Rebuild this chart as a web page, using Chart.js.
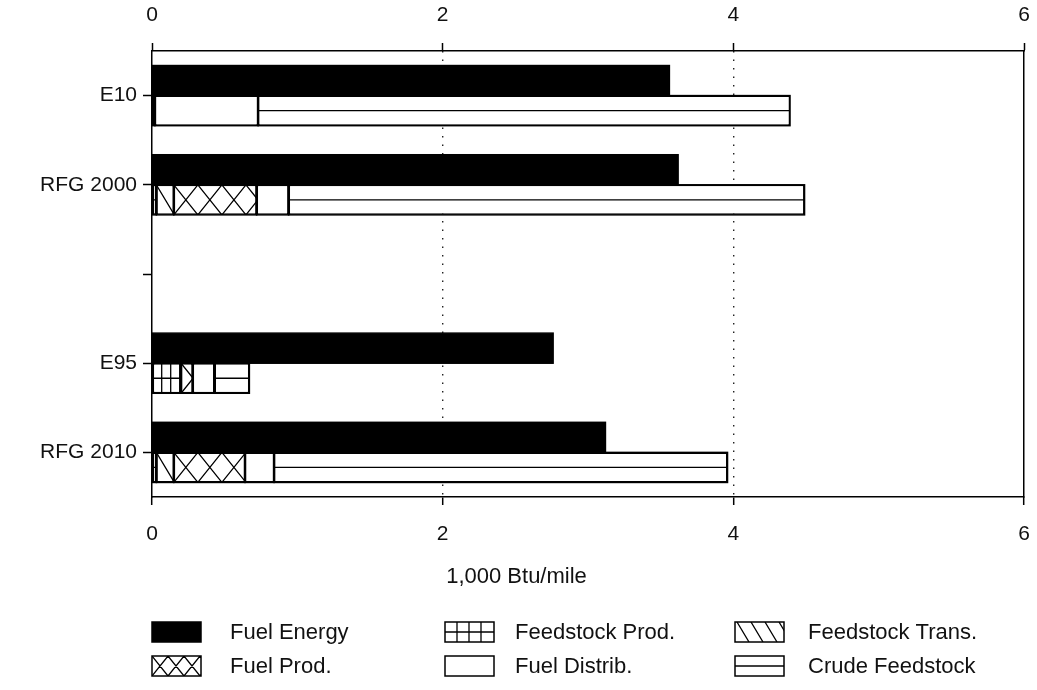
<!DOCTYPE html>
<html>
<head>
<meta charset="utf-8">
<script src="https://cdn.jsdelivr.net/npm/chart.js@4.4.1/dist/chart.umd.min.js"></script>
<style>
  html, body { margin: 0; padding: 0; background: #fff; }
  #c { display: block; }
</style>
</head>
<body>
<canvas id="c" width="1037" height="690"></canvas>
<script>
// Energy use by pathway, 1,000 Btu/mile
const categories = ['E10', 'RFG 2000', '', 'E95', 'RFG 2010'];
const valueTicks = [0, 2, 4, 6];
const fuelEnergy     = [3.56, 3.62, null, 2.76, 3.12];
const feedstockProd  = [0.02, 0.03, null, 0.20, 0.03];
const feedstockTrans = [null, 0.12, null, null, 0.12];
const fuelProd       = [null, 0.57, null, 0.08, 0.49];
const fuelDistrib    = [0.71, 0.22, null, 0.15, 0.20];
const crudeFeedstock = [3.66, 3.55, null, 0.24, 3.12];
const seriesNames = ['Fuel Energy', 'Feedstock Prod.', 'Feedstock Trans.',
                     'Fuel Prod.', 'Fuel Distrib.', 'Crude Feedstock'];
const axisTitle = '1,000 Btu/mile';

const FONT = '"Liberation Sans", Arial, Helvetica, sans-serif';
const INK = '#111';

// Line fill styles used inside bars and legend boxes
function hatchLines(ctx, kind, l, t, w, h, legend) {
  if (kind === 'solid' || kind === 'none') return;
  ctx.save();
  ctx.beginPath();
  ctx.rect(l, t, w, h);
  ctx.clip();
  ctx.strokeStyle = '#000';
  ctx.lineWidth = 1.3;
  ctx.beginPath();
  const mid = t + h / 2;
  if (kind === 'grid') {
    const step = legend ? 12 : 9;
    for (let x = l + step; x < l + w - 1; x += step) {
      ctx.moveTo(x, t); ctx.lineTo(x, t + h);
    }
    ctx.moveTo(l, mid); ctx.lineTo(l + w, mid);
  } else if (kind === 'hline') {
    ctx.moveTo(l, mid); ctx.lineTo(l + w, mid);
  } else if (kind === 'diag') {
    const dx = h * 0.6, step = legend ? 14 : 18;
    for (let x = l - dx; x < l + w + dx; x += step) {
      ctx.moveTo(x, t); ctx.lineTo(x + dx, t + h);
    }
  } else if (kind === 'cross') {
    const p = h * 0.8;
    for (let x = l - p; x < l + w + p; x += p) {
      ctx.moveTo(x, t); ctx.lineTo(x + p, t + h);
      ctx.moveTo(x + p, t); ctx.lineTo(x, t + h);
    }
  }
  ctx.stroke();
  ctx.restore();
}

const hatchPlugin = {
  id: 'hatch',
  beforeDraw(chart) {
    const ctx = chart.ctx;
    ctx.save();
    ctx.fillStyle = '#fff';
    ctx.fillRect(0, 0, chart.width, chart.height);
    ctx.restore();
  },
  afterDatasetsDraw(chart) {
    const ctx = chart.ctx;
    chart.data.datasets.forEach((ds, i) => {
      const meta = chart.getDatasetMeta(i);
      meta.data.forEach((el, j) => {
        if (ds.data[j] == null) return;
        const p = el.getProps(['x', 'y', 'base', 'height'], true);
        const l = Math.min(p.x, p.base), w = Math.abs(p.x - p.base);
        const t = p.y - p.height / 2;
        hatchLines(ctx, ds.hatch, l, t, w, p.height, false);
        ctx.save();
        ctx.strokeStyle = '#000';
        ctx.lineWidth = 1.5;
        ctx.strokeRect(l, t, w, p.height);
        ctx.restore();
      });
    });
  },
  afterDraw(chart) {
    const ctx = chart.ctx;
    const area = chart.chartArea;
    ctx.save();
    ctx.fillStyle = INK;
    ctx.font = '22px ' + FONT;
    ctx.textAlign = 'center';
    ctx.textBaseline = 'middle';
    ctx.fillText(axisTitle, area.left + (area.right - area.left) * 0.418, 577);

    // legend: three columns, two rows
    const boxX = [152, 445, 735], textX = [230, 515, 808], rowY = [632, 666];
    ctx.textAlign = 'left';
    chart.data.datasets.forEach((ds, i) => {
      const col = i % 3, row = Math.floor(i / 3);
      const bx = boxX[col], by = rowY[row] - 10, bw = 49, bh = 20;
      ctx.fillStyle = ds.hatch === 'solid' ? '#000' : '#fff';
      ctx.fillRect(bx, by, bw, bh);
      hatchLines(ctx, ds.hatch, bx, by, bw, bh, true);
      ctx.strokeStyle = '#000';
      ctx.lineWidth = 1.5;
      ctx.strokeRect(bx, by, bw, bh);
      ctx.fillStyle = INK;
      ctx.fillText(ds.label, textX[col], rowY[row] + 1);
    });
    ctx.restore();
  }
};

function series(label, data, stack, hatch) {
  return {
    label, data, stack, hatch,
    backgroundColor: hatch === 'solid' ? '#000' : '#fff',
    borderColor: '#000',
    borderWidth: hatch === 'solid' ? 0 : 1.5,
    borderSkipped: false
  };
}

const tickFont = { family: FONT, size: 21 };
const setValueTicks = s => { s.ticks = valueTicks.map(v => ({ value: v })); };
// the end labels may hang past the plot edges without shrinking it
const fitValueAxis = h => s => { s.height = h; s.paddingLeft = 0; s.paddingRight = 0; };

new Chart(document.getElementById('c'), {
  type: 'bar',
  data: {
    labels: categories,
    datasets: [
      series(seriesNames[0], fuelEnergy, 'energy', 'solid'),
      series(seriesNames[1], feedstockProd, 'chain', 'grid'),
      series(seriesNames[2], feedstockTrans, 'chain', 'diag'),
      series(seriesNames[3], fuelProd, 'chain', 'cross'),
      series(seriesNames[4], fuelDistrib, 'chain', 'none'),
      series(seriesNames[5], crudeFeedstock, 'chain', 'hline')
    ]
  },
  options: {
    indexAxis: 'y',
    responsive: false,
    animation: false,
    devicePixelRatio: 1,
    layout: { padding: 0 },
    datasets: { bar: { categoryPercentage: 0.674, barPercentage: 1 } },
    plugins: { legend: { display: false }, tooltip: { enabled: false } },
    scales: {
      x: {
        type: 'linear', position: 'bottom', min: 0, max: 6, stacked: true,
        afterBuildTicks: setValueTicks,
        afterFit: fitValueAxis(193),
        ticks: { color: INK, font: tickFont, padding: 17 },
        grid: {
          color: c => (c.tick && (c.tick.value === 2 || c.tick.value === 4)) ? '#222' : 'rgba(0,0,0,0)',
          lineWidth: 1.4, tickColor: '#000', tickWidth: 1.5, tickLength: 8
        },
        border: { display: true, color: '#000', width: 1.5, dash: [1.5, 7] }
      },
      x2: {
        type: 'linear', position: 'top', min: 0, max: 6,
        afterBuildTicks: setValueTicks,
        afterFit: fitValueAxis(51),
        ticks: { color: INK, font: tickFont, padding: 15 },
        grid: { drawOnChartArea: false, tickColor: '#000', tickWidth: 1.5, tickLength: 8 },
        border: { display: true, color: '#000', width: 1.5 }
      },
      y: {
        type: 'category', position: 'left', stacked: true,
        afterFit: s => { s.width = 152; },
        ticks: { color: INK, font: tickFont, padding: 6 },
        grid: { drawOnChartArea: false, offset: false, tickColor: '#000', tickWidth: 1.5, tickLength: 9 },
        border: { display: true, color: '#000', width: 1.5 }
      },
      y2: {
        type: 'category', position: 'right',
        afterFit: s => { s.width = 13; },
        ticks: { display: false },
        grid: { display: false },
        border: { display: true, color: '#000', width: 1.5 }
      }
    }
  },
  plugins: [hatchPlugin]
});
</script>
</body>
</html>
